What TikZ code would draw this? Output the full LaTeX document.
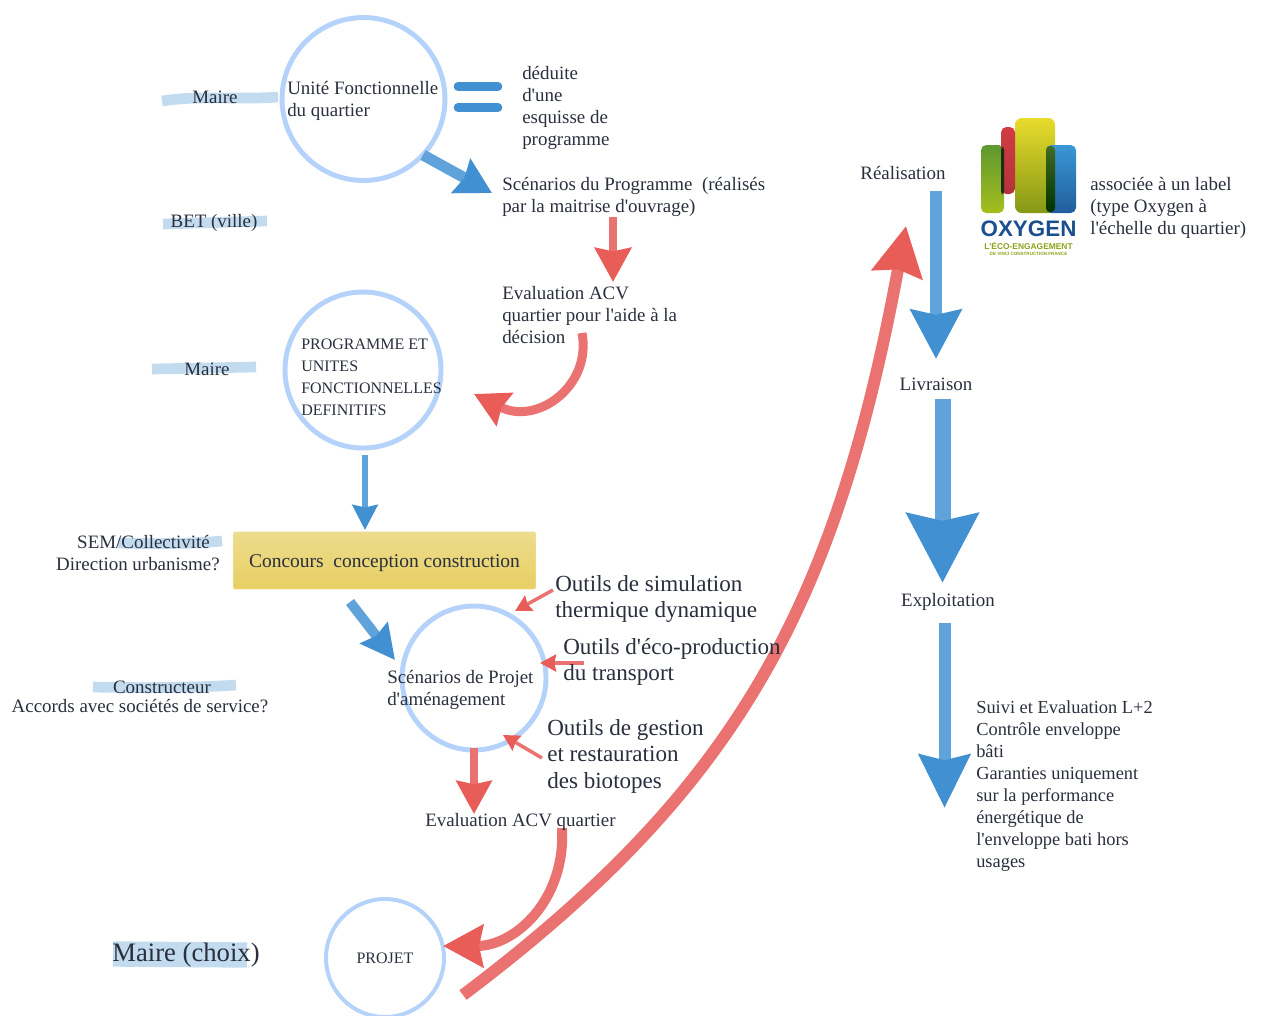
\documentclass[tikz,border=0pt]{standalone}
\usepackage{fontspec}
\setmainfont{Liberation Serif}
\usetikzlibrary{arrows.meta,calc,positioning}

\definecolor{ringblue}{HTML}{B5D3FA}
\definecolor{stemblue}{HTML}{5FA3DA}
\definecolor{headblue}{HTML}{4190D2}
\definecolor{stemred}{HTML}{EA7270}
\definecolor{headred}{HTML}{E85D58}
\definecolor{markblue}{HTML}{C2DBEE}
\definecolor{inkblue}{HTML}{2A2F3E}
\definecolor{boxtop}{HTML}{EDDC8E}
\definecolor{boxbottom}{HTML}{E8CF62}
\definecolor{logolime}{HTML}{A6BE1C}
\definecolor{logogreen}{HTML}{5E9830}
\definecolor{logoyellow}{HTML}{E8DC2C}
\definecolor{logored}{HTML}{D23C44}
\definecolor{logoblue}{HTML}{3A97D5}
\definecolor{logonavy}{HTML}{1B4F8E}
\newcommand{\aq}{\textquotesingle{}}
\tikzset{bluearrow/.style n args={3}{draw=stemblue,line width=.75*#1,-{Stealth[length=.75*#2,width=.75*#3,inset=.075*#2,color=headblue,fill=headblue]}},
redarrow/.style n args={3}{draw=stemred,line width=.75*#1,-{Stealth[length=.75*#2,width=.75*#3,inset=.075*#2,color=headred,fill=headred]}},
ring/.style={draw=ringblue,line width=3.7,shape=circle,inner sep=0pt},
txt/.style={text=inkblue,font=\fontsize{14.2}{16.5}\selectfont,align=left,inner sep=0pt},
capstxt/.style={text=inkblue,font=\fontsize{12}{16.5}\selectfont,align=left,inner sep=0pt},
bigtxt/.style={text=inkblue,font=\fontsize{17.3}{19.9}\selectfont,align=left,inner sep=0pt},
marker/.style={draw=markblue,line width=8},
equalbar/.style={draw=headblue,line width=6.5,line cap=round}}

\begin{document}
\begin{tikzpicture}[x=0.75pt,y=-0.75pt]
\useasboundingbox (0,0) rectangle (1266,1015);

% Marker strokes
\draw[marker] (162,101) .. controls (200,95) and (240,100) .. (278,97);
\draw[marker] (163,224) -- (267,221);
\draw[marker] (152,369) -- (256,367);
\draw[marker] (118,543) .. controls (150,544) and (190,544) .. (222,541);
\draw[marker] (93,687) .. controls (140,688) and (190,688) .. (236,685);
\draw[marker,line width=19] (113,954) -- (247,955);

% Circles
\node[ring,minimum size=122.2] (unite) at (363.5,99) {};
\node[ring,minimum size=117] (programme) at (363,370) {};
\node[ring,minimum size=108] (scenarios) at (474,678) {};
\node[ring,minimum size=88.5,line width=3] (projet) at (385,958) {};

% Box
\node[draw=boxtop!80,top color=boxtop,bottom color=boxbottom,minimum width=227,minimum height=42.8,inner sep=0pt,rounded corners=1.5] (concours) at (384.5,560.5) {};

% Arrow ends
\coordinate (a1) at (423,155); \coordinate (a2) at (492,193);
\coordinate (b1) at (613,217); \coordinate (b2) at (613,282);
\coordinate (c1) at (582,333); \coordinate (c2) at (474,394);
\coordinate (d1) at (365,455); \coordinate (d2) at (365,530);
\coordinate (e1) at (350,602); \coordinate (e2) at (395,660);
\coordinate (f1) at (553,590); \coordinate (f2) at (515,611);
\coordinate (g1) at (584,663); \coordinate (g2) at (540,663);
\coordinate (h1) at (542,758); \coordinate (h2) at (503,735);
\coordinate (i1) at (474,748); \coordinate (i2) at (474,814);
\coordinate (j1) at (562,828); \coordinate (j2) at (443,946);
\coordinate (k1) at (463,995); \coordinate (k2) at (906,226);
\coordinate (l1) at (936,191); \coordinate (l2) at (936,359);
\coordinate (m1) at (942.5,399); \coordinate (m2) at (942.5,583);
\coordinate (n1) at (944.5,623); \coordinate (n2) at (944.5,808);

% Red arrows
\draw[redarrow={8}{34}{36}] (b1) -- (b2);
\draw[redarrow={9}{34}{36}] (c1) .. controls (592,385) and (538,426) .. (c2);
\draw[redarrow={3.5}{16}{17}] (f1) -- (f2);
\draw[redarrow={3.5}{16}{17}] (g1) -- (g2);
\draw[redarrow={3.5}{16}{17}] (h1) -- (h2);
\draw[redarrow={8.5}{33}{35}] (i1) -- (i2);
\draw[redarrow={10}{40}{42}] (j1) .. controls (566,900) and (515,946) .. (j2);
\draw[redarrow={12}{49}{50}] (k1) .. controls (735,790) and (835,610) .. (k2);

% Blue arrows
\draw[bluearrow={11}{35}{38}] (a1) -- (a2);
\draw[bluearrow={6}{25}{25}] (d1) -- (d2);
\draw[bluearrow={10}{34}{34}] (e1) -- (e2);
\draw[bluearrow={12}{49}{50}] (l1) -- (l2);
\draw[bluearrow={16}{69}{70}] (m1) -- (m2);
\draw[bluearrow={12}{53}{50}] (n1) -- (n2);

% Equals sign
\draw[equalbar] (458,86.5) -- (498,86.5);
\draw[equalbar] (458,107.5) -- (498,107.5);

% Text in circles
\node[txt,anchor=west] (uniteText) at (287,101) {Unité Fonctionnelle\\du quartier};
\node[capstxt,anchor=west] (programmeText) at (301,377) {PROGRAMME ET\\UNITES\\FONCTIONNELLES\\DEFINITIFS};
\node[txt,anchor=west] (scenariosText) at (387,690) {Scénarios de Projet\\d\aq aménagement};
\node[capstxt] (projetText) at (385,958) {PROJET};
\node[txt,font=\fontsize{14.6}{16.5}\selectfont] (concoursText) at (384.5,563) {Concours\ \ conception construction};

% Labels, left column
\node[txt] (maireA) at (215,97) {Maire};
\node[txt] (bet) at (214,223) {BET (ville)};
\node[txt] (maireB) at (207,369) {Maire};
\node[txt] (sem) at (143.5,542) {SEM/Collectivité};
\node[txt] (direction) at (138,564) {Direction urbanisme?};
\node[txt] (constructeur) at (162,687) {Constructeur};
\node[txt] (accords) at (140,706) {Accords avec sociétés de service?};
\node[bigtxt,font=\fontsize{20}{22}\selectfont] (maireC) at (186,955) {Maire (choix)};

% Labels, middle column
\node[txt,anchor=west] (deduite) at (522,108) {déduite\\d\aq une\\esquisse de\\programme};
\node[txt,anchor=west] (scenProg) at (502,197) {Scénarios du Programme\ \ (réalisés\\par la maitrise d\aq ouvrage)};
\node[txt,anchor=west] (evalA) at (502,315) {Evaluation ACV\\quartier pour l\aq aide à la\\décision};
\node[bigtxt,anchor=west] (simul) at (555,599) {Outils de simulation\\thermique dynamique};
\node[bigtxt,anchor=west] (eco) at (563,662) {Outils d\aq éco-production\\du transport};
\node[bigtxt,anchor=west] (gestion) at (547,756) {Outils de gestion\\et restauration\\des biotopes};
\node[txt,anchor=west] (evalB) at (425,822) {Evaluation ACV quartier};

% Labels, right column
\node[txt] (realisation) at (903,173) {Réalisation};
\node[txt] (livraison) at (936,384) {Livraison};
\node[txt] (exploitation) at (948,602) {Exploitation};
\node[txt,anchor=west] (label) at (1090,208) {associée à un label\\(type Oxygen à\\l\aq échelle du quartier)};
\node[txt,anchor=west,font=\fontsize{13.8}{16.5}\selectfont] (suivi) at (976,786) {Suivi et Evaluation L+2\\Contrôle enveloppe\\bâti\\Garanties uniquement\\sur la performance\\énergétique de\\l\aq enveloppe bati hors\\usages};

% Oxygen logo
\shade[top color=logogreen,bottom color=logolime,rounded corners=4] (981,145) rectangle (1004,213);
\shade[top color=logoyellow,bottom color=logolime!80!black,rounded corners=5] (1015,118) rectangle (1055,213);
\shade[top color=logored,bottom color=logored!85!black,rounded corners=4] (1001,127) rectangle (1015,194);
\fill[logogreen!30!black,rounded corners=2] (1001,147) rectangle (1004,194);
\shade[top color=logoblue,bottom color=logonavy!80!logoblue,rounded corners=4] (1046,145) rectangle (1076,213);
\shade[top color=logogreen!70!black,bottom color=black!80!green,rounded corners=3] (1046,146) rectangle (1055,212);
\node[font=\fontspec{Liberation Sans}\bfseries\fontsize{16.8}{18}\selectfont,text=logonavy,inner sep=0pt] (oxygen) at (1028.5,229) {OXYGEN};
\node[font=\fontspec{Liberation Sans}\bfseries\fontsize{6.3}{7}\selectfont,text=logolime!85!black,inner sep=0pt] (logoEco) at (1028.5,245.5) {L\aq ÉCO-ENGAGEMENT};
\node[font=\fontspec{Liberation Sans}\bfseries\fontsize{3.4}{4}\selectfont,text=logolime!85!black,inner sep=0pt] (logoVinci) at (1028.5,254) {DE VINCI CONSTRUCTION FRANCE};

\end{tikzpicture}
\end{document}
